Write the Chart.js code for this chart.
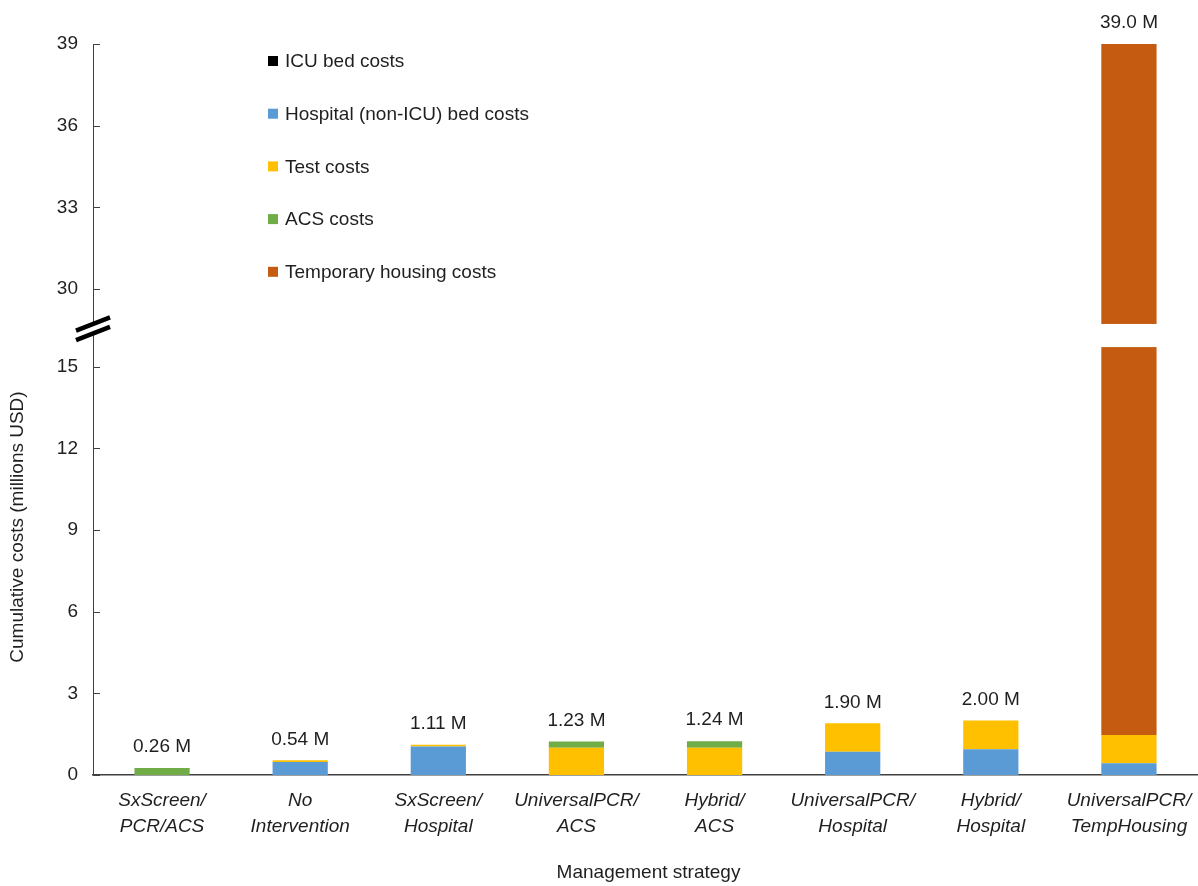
<!DOCTYPE html>
<html>
<head>
<meta charset="utf-8">
<title>Cumulative costs by management strategy</title>
<script src="https://cdn.jsdelivr.net/npm/chart.js@4.4.1/dist/chart.umd.min.js"></script>
<style>
  html, body { margin: 0; padding: 0; background: #ffffff; }
  #wrap { width: 1198px; height: 886px; position: relative; }
</style>
</head>
<body>
<div id="wrap"><canvas id="c"></canvas></div>
<script>
// Strategies on the x axis (two-line labels)
const categories = [
  ["SxScreen/", "PCR/ACS"],
  ["No", "Intervention"],
  ["SxScreen/", "Hospital"],
  ["UniversalPCR/", "ACS"],
  ["Hybrid/", "ACS"],
  ["UniversalPCR/", "Hospital"],
  ["Hybrid/", "Hospital"],
  ["UniversalPCR/", "TempHousing"]
];

// Cost components, millions USD
const icuCosts      = [0, 0, 0, 0, 0, 0, 0, 0];
const hospitalCosts = [0, 0.48, 1.05, 0, 0, 0.85, 0.95, 0.43];
const testCosts     = [0, 0.06, 0.06, 1.00, 1.00, 1.05, 1.05, 1.04];
const acsCosts      = [0.26, 0, 0, 0.23, 0.24, 0, 0, 0];
const housingCosts  = [0, 0, 0, 0, 0, 0, 0, 37.53];

// Y axis tick values (broken axis: 0–15 and 30–39)
const yTickValues = [0, 3, 6, 9, 12, 15, 30, 33, 36, 39];

// Broken-axis mapping: values above BREAK_HIGH are shifted down so the
// range BREAK_LOW..BREAK_HIGH collapses into a small gap of GAP units.
const BREAK_LOW = 15.72;
const BREAK_HIGH = 28.715;
const GAP = 0.85;
const SHIFT = BREAK_HIGH - BREAK_LOW - GAP;
function toAxis(v) {
  if (v <= BREAK_LOW) return v;
  if (v >= BREAK_HIGH) return v - SHIFT;
  return BREAK_LOW + (v - BREAK_LOW) / (BREAK_HIGH - BREAK_LOW) * GAP;
}
function fromAxis(a) {
  return a <= BREAK_LOW + 1e-9 ? a : a + SHIFT;
}

const series = [
  { label: "ICU bed costs",                 values: icuCosts,      color: "#000000" },
  { label: "Hospital (non-ICU) bed costs",  values: hospitalCosts, color: "#5B9BD5" },
  { label: "Test costs",                    values: testCosts,     color: "#FFC000" },
  { label: "ACS costs",                     values: acsCosts,      color: "#70AD47" },
  { label: "Temporary housing costs",       values: housingCosts,  color: "#C55A11" }
];

const totals = categories.map((_, i) => series.reduce((s, d) => s + d.values[i], 0));

// Stack the components from the baseline up as floating bars on the mapped axis
const running = categories.map(() => 0);
const datasets = series.map(s => {
  const data = s.values.map((v, i) => {
    const lo = running[i];
    const hi = lo + v;
    running[i] = hi;
    return v > 0 ? [toAxis(lo), toAxis(hi)] : null;
  });
  return {
    label: s.label,
    data: data,
    backgroundColor: s.color,
    borderWidth: 0,
    grouped: false,
    barPercentage: 0.4,
    categoryPercentage: 1.0
  };
});

const FONT = '"Liberation Sans", Arial, Helvetica, sans-serif';
const TEXT = '#1f1f1f';
const AXIS = '#404040';

function fmtTotal(v) {
  return (v >= 10 ? v.toFixed(1) : v.toFixed(2)) + ' M';
}

const decor = {
  id: 'decor',
  afterDatasetsDraw(chart) {
    const { ctx, chartArea: a, scales: { x, y } } = chart;
    ctx.save();

    // gap across the broken part of the axis
    const gTop = y.getPixelForValue(BREAK_LOW + GAP);
    const gBot = y.getPixelForValue(BREAK_LOW);
    ctx.fillStyle = '#ffffff';
    ctx.fillRect(a.left + 1, gTop, a.right - a.left, gBot - gTop);

    // inward tick marks on the y axis
    ctx.strokeStyle = AXIS;
    ctx.lineWidth = 1;
    yTickValues.forEach(v => {
      const py = Math.round(y.getPixelForValue(toAxis(v))) + 0.5;
      ctx.beginPath();
      ctx.moveTo(a.left, py);
      ctx.lineTo(a.left + 7, py);
      ctx.stroke();
    });

    // break symbol on the y axis
    const cx = a.left;
    const cy = gTop + 4.5;
    const dx = 17, dy = 6.6, sep = 9.5;
    ctx.fillStyle = '#ffffff';
    ctx.beginPath();
    ctx.moveTo(cx - dx, cy - 4.5 + dy);
    ctx.lineTo(cx + dx, cy - 4.5 - dy);
    ctx.lineTo(cx + dx, cy - 4.5 - dy + sep);
    ctx.lineTo(cx - dx, cy - 4.5 + dy + sep);
    ctx.closePath();
    ctx.fill();
    ctx.strokeStyle = '#000000';
    ctx.lineWidth = 4.5;
    [0, sep].forEach(off => {
      ctx.beginPath();
      ctx.moveTo(cx - dx, cy - 4.5 + dy + off);
      ctx.lineTo(cx + dx, cy - 4.5 - dy + off);
      ctx.stroke();
    });

    // totals above the bars
    ctx.fillStyle = TEXT;
    ctx.font = '19px ' + FONT;
    ctx.textAlign = 'center';
    ctx.textBaseline = 'middle';
    totals.forEach((t, i) => {
      const px = x.getPixelForValue(i);
      const py = y.getPixelForValue(toAxis(t));
      ctx.fillText(fmtTotal(t), px, py - 21);
    });

    // legend inside the plot area
    ctx.textAlign = 'left';
    series.forEach((s, k) => {
      const ry = 61 + k * 52.7;
      ctx.fillStyle = s.color;
      ctx.fillRect(268, ry - 5, 10, 10);
      ctx.fillStyle = TEXT;
      ctx.fillText(s.label, 285, ry + 1);
    });

    // axis titles
    ctx.textAlign = 'center';
    ctx.fillText('Management strategy', (a.left + a.right) / 2 + 3, 873);
    ctx.translate(18, 527);
    ctx.rotate(-Math.PI / 2);
    ctx.fillText('Cumulative costs (millions USD)', 0, 0);

    ctx.restore();
  }
};

new Chart(document.getElementById('c'), {
  type: 'bar',
  data: { labels: categories, datasets: datasets },
  options: {
    responsive: true,
    maintainAspectRatio: false,
    animation: false,
    devicePixelRatio: 1,
    layout: { padding: { top: 44, right: 0, bottom: 0, left: 0 } },
    plugins: {
      legend: { display: false },
      tooltip: { enabled: false }
    },
    scales: {
      x: {
        grid: { display: false, drawTicks: false },
        border: { display: true, color: AXIS, width: 1.5 },
        ticks: {
          color: TEXT,
          font: { family: FONT, size: 19, style: 'italic', lineHeight: 1.4 },
          padding: 12,
          maxRotation: 0,
          autoSkip: false
        },
        afterFit(scale) {
          scale.height = 111;
          scale.paddingLeft = 0;
          scale.paddingRight = 0;
        }
      },
      y: {
        min: 0,
        max: toAxis(39),
        grid: { display: false, drawTicks: false },
        border: { display: true, color: AXIS, width: 1 },
        ticks: {
          color: TEXT,
          font: { family: FONT, size: 19 },
          padding: 15,
          callback(value) { return String(Math.round(fromAxis(value))); }
        },
        afterBuildTicks(scale) {
          scale.ticks = yTickValues.map(v => ({ value: toAxis(v) }));
        },
        afterFit(scale) {
          scale.width = 93;
          scale.paddingTop = 0;
          scale.paddingBottom = 0;
        }
      }
    }
  },
  plugins: [decor]
});
</script>
</body>
</html>
